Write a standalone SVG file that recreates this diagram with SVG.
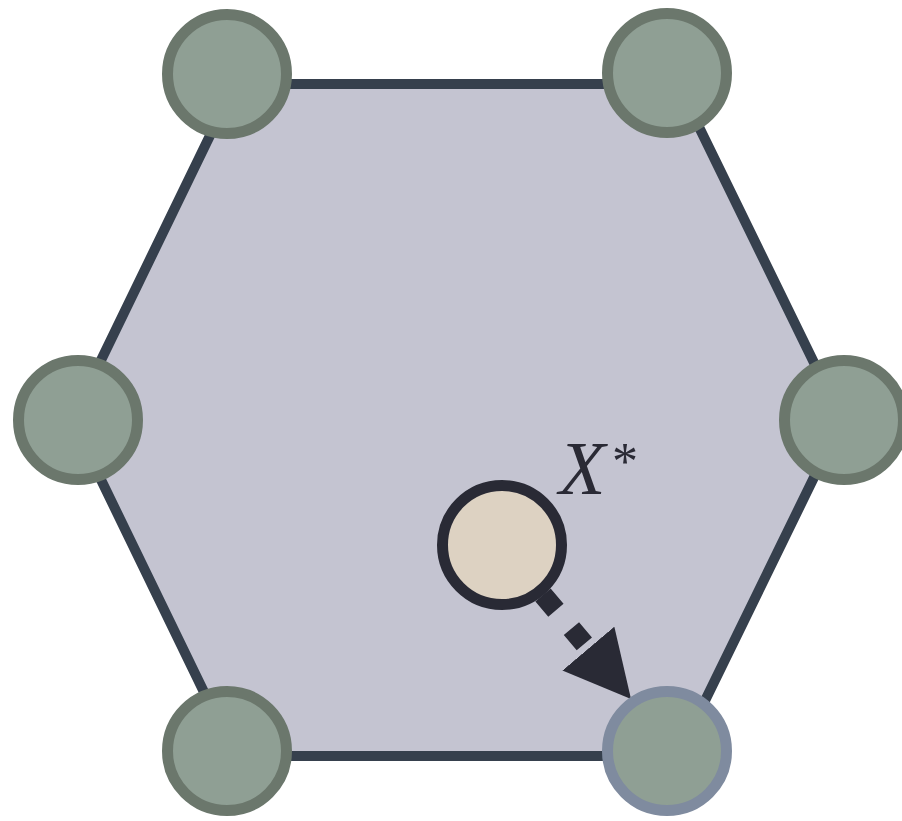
<svg xmlns="http://www.w3.org/2000/svg" width="902" height="821" viewBox="0 0 902 821">
<style>
.vtx{fill:#8f9f94;stroke:#6b776c;stroke-width:11}
.hex{fill:#c4c4d1;stroke:#36404d;stroke-width:10;stroke-linejoin:miter}
.lbl{font-family:"Liberation Serif",serif;fill:#2a2a35}
</style>
<defs>
<marker id="ah" markerUnits="userSpaceOnUse" markerWidth="68" markerHeight="68" refX="66" refY="34" orient="auto" viewBox="0 0 68 68">
<path d="M0,0 L66,34 L0,68 Z" fill="#292a35"/>
</marker>
</defs>
<g id="hexagon">
<polygon class="hex" points="72,420 235,84 678,84 842,420 678,756 235,756"/>
</g>
<g id="connectors">
<line x1="543" y1="595" x2="631" y2="699" stroke="#292a35" stroke-width="20" stroke-dasharray="20 24 20 100" marker-end="url(#ah)"/>
</g>
<g id="v1"><circle class="vtx" cx="227" cy="74" r="59.5"/></g>
<g id="v2"><circle class="vtx" cx="667" cy="73" r="59.5"/></g>
<g id="v3"><circle class="vtx" cx="78" cy="420" r="59.5"/></g>
<g id="v4"><circle class="vtx" cx="844" cy="420" r="59.5"/></g>
<g id="v5"><circle class="vtx" cx="227" cy="751" r="59.5"/></g>
<g id="v6"><circle class="vtx" cx="667" cy="751" r="59.5" style="stroke:#7f8b9f"/></g>
<g id="xstar">
<circle cx="502" cy="545" r="59.5" fill="#ddd2c2" stroke="#292a35" stroke-width="11"/>
<text class="lbl" x="559" y="494" font-size="76" font-style="italic">X</text>
<text class="lbl" x="612" y="479" font-size="52">*</text>
</g>
</svg>
